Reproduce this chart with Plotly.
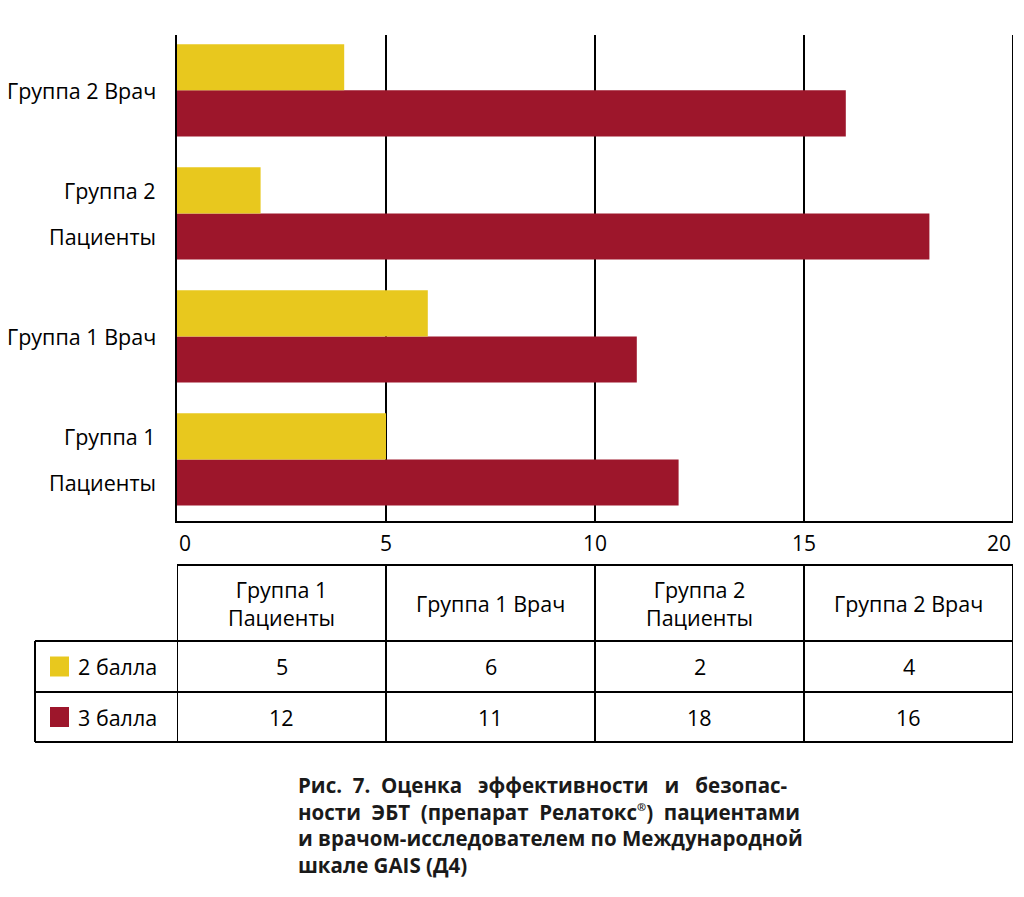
import plotly.graph_objects as go

# data
groups = ['Группа 1 Пациенты', 'Группа 1 Врач', 'Группа 2 Пациенты', 'Группа 2 Врач']
group_lines = [['Группа 1', 'Пациенты'], ['Группа 1 Врач'], ['Группа 2', 'Пациенты'], ['Группа 2 Врач']]
score2 = [5, 6, 2, 4]
score3 = [12, 11, 18, 16]
series_names = ['2 балла', '3 балла']
x_ticks = [0, 5, 10, 15, 20]

yellow = '#E8C81E'
red = '#9D162B'
font = 'Open Sans'
W, H = 1024, 897
L, R, T, B = 177, 1013, 35, 521


def px_x(p):
    return (p - L) / (R - L)


def px_y(p):
    return (B - p) / (B - T)


fig = go.Figure()
# red first so yellow ends up on top inside each group
fig.add_trace(go.Bar(y=groups, x=score3, orientation='h', marker_color=red,
                     marker_line_width=0, name=series_names[1]))
fig.add_trace(go.Bar(y=groups, x=score2, orientation='h', marker_color=yellow,
                     marker_line_width=0, name=series_names[0]))

ann = []
shapes = []

# category labels on the left
for g, lines in zip(groups, group_lines):
    n = len(lines)
    for i, t in enumerate(lines):
        ann.append(dict(x=px_x(158), xref='paper', y=g, yref='y', text=t, showarrow=False,
                        xanchor='right', yanchor='middle', yshift=(n - 1) * 23 - i * 46,
                        font=dict(size=21.5, color='black', family=font)))

# x tick labels
for i, v in enumerate(x_ticks):
    anchor = 'left' if i == 0 else ('right' if i == len(x_ticks) - 1 else 'center')
    ann.append(dict(x=v, xref='x', y=px_y(543), yref='paper', text=str(v), showarrow=False,
                    xanchor=anchor, yanchor='middle',
                    font=dict(size=21, color='black', family=font)))

line = dict(color='black', width=2)
# last gridline sits on the plot edge, draw it explicitly
shapes.append(dict(type='line', xref='x', yref='paper', x0=x_ticks[-1], x1=x_ticks[-1], y0=0, y1=1, line=line))

# table under the chart, columns aligned with the gridlines
row_top, row_h1, row_h2, row_bot = 565, 641, 692, 742
left_edge = 35
shapes.append(dict(type='line', xref='x', yref='paper', x0=0, x1=20, y0=px_y(row_top), y1=px_y(row_top), line=line))
for r in [row_h1, row_h2, row_bot]:
    shapes.append(dict(type='line', xref='paper', yref='paper', x0=px_x(left_edge), x1=1,
                       y0=px_y(r), y1=px_y(r), line=line))
shapes.append(dict(type='line', xref='paper', yref='paper', x0=px_x(left_edge), x1=px_x(left_edge),
                   y0=px_y(row_h1), y1=px_y(row_bot), line=line))
for v in x_ticks:
    shapes.append(dict(type='line', xref='x', yref='paper', x0=v, x1=v,
                       y0=px_y(row_top), y1=px_y(row_bot), line=line))

col_mid = [(x_ticks[i] + x_ticks[i + 1]) / 2 for i in range(len(groups))]
for c, lines in zip(col_mid, group_lines):
    ann.append(dict(x=c, xref='x', y=px_y((row_top + row_h1) / 2), yref='paper',
                    text='<br>'.join(lines), showarrow=False, xanchor='center', yanchor='middle',
                    font=dict(size=21.5, color='black', family=font)))

for vals, r0, r1 in [(score2, row_h1, row_h2), (score3, row_h2, row_bot)]:
    for c, v in zip(col_mid, vals):
        ann.append(dict(x=c, xref='x', y=px_y((r0 + r1) / 2), yref='paper', text=str(v),
                        showarrow=False, xanchor='center', yanchor='middle',
                        font=dict(size=21.5, color='black', family=font)))

# legend squares + names in the first column
for name, col, r0, r1 in [(series_names[0], yellow, row_h1, row_h2), (series_names[1], red, row_h2, row_bot)]:
    mid = (r0 + r1) / 2
    shapes.append(dict(type='rect', xref='paper', yref='paper', x0=px_x(50), x1=px_x(69),
                       y0=px_y(mid - 10), y1=px_y(mid + 10), fillcolor=col, line_width=0))
    ann.append(dict(x=px_x(76), xref='paper', y=px_y(mid), yref='paper', text=name, showarrow=False,
                    xanchor='left', yanchor='middle', font=dict(size=21.5, color='black', family=font)))

# caption (justified in the original, spaces widen the short lines)
ann.append(dict(x=px_x(296), xref='paper', y=px_y(769), yref='paper', showarrow=False,
                xanchor='left', yanchor='top', align='left',
                text='Рис.  7.  Оценка   эффективности   и   безопас-<br>'
                     'ности  ЭБТ  (препарат  Релатокс<sup><span style="font-size:11px">®</span></sup>)  пациентами<br>'
                     'и врачом-исследователем по Международной<br>'
                     'шкале GAIS (Д4)',
                font=dict(size=20.5, color='#1a1a1a', family=font, weight='bold')))

fig.update_layout(width=W, height=H, margin=dict(l=L, r=W - R, t=T, b=H - B),
                  paper_bgcolor='white', plot_bgcolor='white',
                  barmode='group', bargap=0.25, bargroupgap=0, showlegend=False,
                  annotations=ann, shapes=shapes)
fig.update_xaxes(range=[0, 20], tickvals=x_ticks, showticklabels=False, ticks='',
                 showgrid=True, gridcolor='black', gridwidth=2, zeroline=False,
                 showline=True, linecolor='black', linewidth=2)
fig.update_yaxes(type='category', categoryorder='array', categoryarray=groups,
                 range=[-0.5, 3.45], showticklabels=False, ticks='', showgrid=False,
                 zeroline=False, showline=True, linecolor='black', linewidth=2)

fig.write_html('out.html', config={'displayModeBar': False},
               post_script="document.body.style.margin='0';")
